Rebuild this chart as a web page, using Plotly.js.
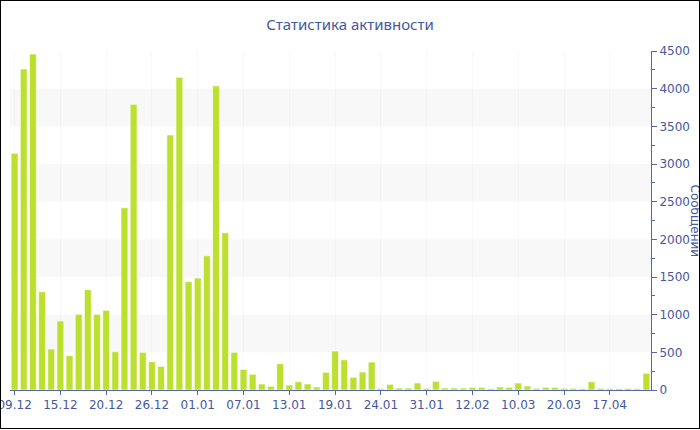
<!DOCTYPE html>
<html>
<head>
<meta charset="utf-8">
<script src="https://cdn.plot.ly/plotly-3.0.1.min.js"></script>
<style>
  html, body { margin: 0; padding: 0; background: #fff; }
  #wrap { position: relative; width: 700px; height: 430px; overflow: hidden; }
  #chart { position: absolute; left: 0; top: 0; width: 700px; height: 430px; }
  #frame { position: absolute; left: 0; top: 0; width: 700px; height: 429px; box-sizing: border-box; border: 1px solid #000; pointer-events: none; }
</style>
</head>
<body>
<div id="wrap">
  <div id="chart"></div>
  <div id="frame"></div>
</div>
<script>
// Categories (one per bar)
const dates = [
  "09.12","10.12","11.12","12.12","14.12","15.12","16.12","17.12","18.12","19.12",
  "20.12","21.12","22.12","23.12","25.12","26.12","27.12","28.12","29.12","30.12",
  "01.01","02.01","03.01","04.01","05.01","07.01","08.01","09.01","10.01","11.01",
  "13.01","14.01","15.01","16.01","17.01","19.01","20.01","21.01","22.01","23.01",
  "24.01","25.01","27.01","28.01","30.01","31.01","02.02","05.02","08.02","10.02",
  "12.02","15.02","20.02","25.02","03.03","10.03","12.03","14.03","16.03","18.03",
  "20.03","24.03","29.03","03.04","10.04","17.04","20.04","24.04","28.04","02.05"
];
// Messages per date
const messages = [
  3142,4261,4460,1305,544,916,456,1004,1332,1004,
  1058,509,2420,3792,500,376,314,3385,4151,1438,
  1487,1783,4036,2088,500,274,208,80,49,349,
  66,110,80,40,234,517,402,168,239,371,
  18,75,27,27,93,22,115,27,27,25,
  35,35,18,40,35,93,53,22,35,35,
  22,22,18,110,22,18,18,22,18,221
];
// Tick labels shown on the x axis
const tickLabels = ["09.12","15.12","20.12","26.12","01.01","07.01","13.01","19.01","24.01","31.01","12.02","10.03","20.03","17.04"];
// Shaded alternate bands on the y axis
const bandStarts = [500, 1500, 2500, 3500];
const bandSize = 500;

const title = "Статистика активности";
const yTitle = "Сообщений";

const blue = "#4557a0";
const axisBlue = "#5566aa";
const font = "DejaVu Sans, Verdana, sans-serif";

const shapes = bandStarts.map(s => ({
  type: "rect", xref: "paper", yref: "y", x0: 0, x1: 1, y0: s, y1: s + bandSize,
  fillcolor: "#f8f8f8", line: { width: 0 }, layer: "below"
}));

const trace = {
  type: "bar",
  x: dates,
  y: messages,
  marker: { color: "#bde030", line: { color: "rgba(255,255,255,0.6)", width: 1 } },
  hoverinfo: "x+y"
};

const layout = {
  width: 700, height: 430,
  margin: { l: 10, r: 49, t: 51, b: 40, pad: 0 },
  paper_bgcolor: "rgba(0,0,0,0)",
  plot_bgcolor: "rgba(0,0,0,0)",
  showlegend: false,
  bargap: 0.25,
  font: { family: font, size: 12, color: blue },
  title: { text: title, x: 0.5, xref: "container", y: 0.955, yref: "container", xanchor: "center",
           font: { family: "Noto Sans, sans-serif", size: 15, color: blue } },
  xaxis: {
    type: "category",
    categoryorder: "array", categoryarray: dates,
    range: [-0.5, dates.length - 0.5],
    tickmode: "array", tickvals: tickLabels, ticktext: tickLabels,
    ticks: "outside", ticklen: 4, tickcolor: axisBlue,
    showline: true, linecolor: axisBlue, linewidth: 1,
    showgrid: true, gridcolor: "rgba(0,0,0,0.025)", gridwidth: 1,
    tickfont: { family: font, size: 12, color: blue },
    automargin: false, fixedrange: true, tickangle: 0
  },
  yaxis: {
    side: "right",
    range: [0, 4500],
    dtick: 500, tick0: 0,
    tickformat: "d",
    ticks: "outside", ticklen: 5, tickcolor: axisBlue,
    minor: { dtick: 250, ticks: "outside", ticklen: 3, tickcolor: axisBlue, showgrid: false },
    showline: true, linecolor: axisBlue, linewidth: 1,
    showgrid: false, zeroline: false,
    tickfont: { family: font, size: 12, color: blue },
    automargin: false, fixedrange: true
  },
  shapes: shapes,
  annotations: [{
    text: yTitle, xref: "paper", yref: "paper", x: 1, y: 0.5,
    xanchor: "center", yanchor: "middle", xshift: 44, textangle: 90, showarrow: false,
    font: { family: font, size: 12, color: blue }
  }]
};

Plotly.newPlot("chart", [trace], layout, { displayModeBar: false, staticPlot: true });
</script>
</body>
</html>
